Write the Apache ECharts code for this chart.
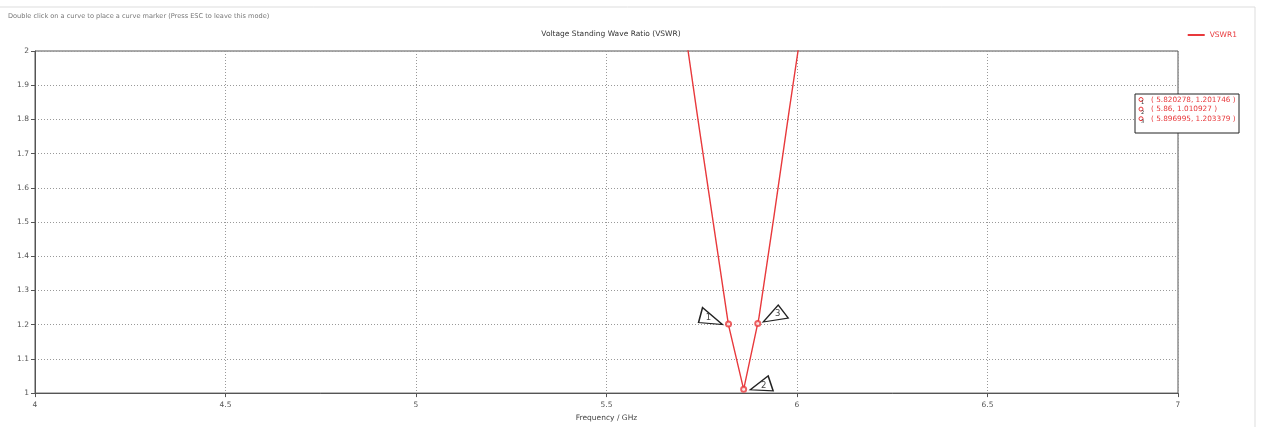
<!DOCTYPE html>
<html>
<head>
<meta charset="utf-8">
<script src="https://cdn.jsdelivr.net/npm/echarts@6/dist/echarts.min.js"></script>
<style>
  html, body { margin: 0; padding: 0; background: #fff; }
  #chart { width: 1262px; height: 427px; }
</style>
</head>
<body>
<div id="chart"></div>
<script>
// VSWR1 curve samples (GHz, VSWR)
const freqs = [5.62, 5.66, 5.70, 5.74, 5.78, 5.82, 5.86, 5.90, 5.94, 5.98, 6.02, 6.06];
const vswr = [2.73, 2.42, 2.11, 1.80, 1.50, 1.20, 1.011, 1.22, 1.52, 1.83, 2.13, 2.45];

// curve markers
const markerIds = ["1", "2", "3"];
const markerX = [5.820278, 5.86, 5.896995];
const markerY = [1.201746, 1.010927, 1.203379];

const xTicks = [4, 4.5, 5, 5.5, 6, 6.5, 7];

const font = "DejaVu Sans";
const red = "#e8393c";

const chart = echarts.init(document.getElementById("chart"));

// triangle flags next to each marker: path, size, offset
const flags = [
  { path: "path://M4,0 L0,15 L24,17 Z", size: [24, 17], offset: [-18, -8], lab: [-2, 2] },
  { path: "path://M18,0 L0,14 L23,15 Z", size: [23, 15], offset: [18, -6], lab: [2, 2] },
  { path: "path://M15,0 L0,17 L25,13 Z", size: [25, 17], offset: [18, -10], lab: [2, 0] },
];

const flagPoints = markerIds.map((id, i) => ({
  name: id,
  coord: [markerX[i], markerY[i]],
  symbol: flags[i].path,
  symbolSize: flags[i].size,
  symbolOffset: flags[i].offset,
  symbolKeepAspect: false,
  itemStyle: { color: "#fff", borderColor: "#222", borderWidth: 1.3 },
  label: {
    show: true,
    formatter: id,
    position: "inside",
    offset: flags[i].lab,
    color: "#444",
    fontSize: 8.5,
    fontFamily: font,
  },
}));

// marker readout box
const boxLeft = 1135, boxTop = 94, rowGap = 9.6;
const boxLines = markerIds.map((id, i) => ({
  type: "text",
  left: boxLeft + 16,
  top: boxTop + 2.5 + i * rowGap,
  style: {
    text: "( " + markerX[i] + ", " + markerY[i] + " )",
    fill: red,
    font: "7.3px '" + font + "'",
  },
}));
const boxSymbols = markerIds.map((id, i) => ({
  type: "circle",
  shape: { cx: boxLeft + 6, cy: boxTop + 5.5 + i * rowGap, r: 2 },
  style: { fill: "#fff", stroke: red, lineWidth: 1 },
}));
const boxDigits = markerIds.map((id, i) => ({
  type: "text",
  left: boxLeft + 6,
  top: boxTop + 6.5 + i * rowGap,
  style: { text: id, fill: "#333", font: "5px '" + font + "'" },
}));

const option = {
  animation: false,
  backgroundColor: "#fff",
  title: {
    text: "Voltage Standing Wave Ratio (VSWR)",
    left: 606,
    textAlign: "center",
    top: 25,
    textStyle: { fontSize: 7.5, fontWeight: "normal", color: "#333", fontFamily: font },
  },
  legend: {
    data: ["VSWR1"],
    right: 20,
    top: 26,
    itemWidth: 17,
    itemHeight: 2,
    icon: "rect",
    textStyle: { color: red, fontSize: 7.5, fontFamily: font },
  },
  grid: {
    left: 35,
    right: 84,
    top: 51,
    bottom: 31,
    show: true,
    borderColor: "#555",
    borderWidth: 1,
  },
  xAxis: {
    type: "value",
    min: 4,
    max: 7,
    interval: 0.5,
    name: "Frequency / GHz",
    nameLocation: "middle",
    nameGap: 20,
    nameTextStyle: { fontSize: 7.5, color: "#444", fontFamily: font },
    axisLine: { lineStyle: { color: "#555" } },
    axisTick: { show: true, length: 4, lineStyle: { color: "#555" } },
    axisLabel: { fontSize: 7.5, color: "#555", fontFamily: font, margin: 8,
      formatter: (v) => (xTicks.includes(v) ? String(v) : "") },
    splitLine: { show: true, lineStyle: { type: [1, 2], color: "#999", width: 1 } },
  },
  yAxis: {
    type: "value",
    min: 1,
    max: 2,
    interval: 0.1,
    axisLine: { show: true, lineStyle: { color: "#555" } },
    axisTick: { show: true, length: 4, lineStyle: { color: "#555" } },
    axisLabel: { fontSize: 7.5, color: "#555", fontFamily: font, margin: 6,
      formatter: (v) => String(+v.toFixed(1)) },
    splitLine: { show: true, lineStyle: { type: [1, 2], color: "#999", width: 1 } },
  },
  series: [
    {
      name: "VSWR1",
      type: "line",
      data: freqs.map((f, i) => [f, vswr[i]]),
      showSymbol: false,
      clip: true,
      lineStyle: { color: red, width: 1.4 },
      itemStyle: { color: red },
      markPoint: { silent: true, data: flagPoints },
    },
    {
      name: "markers",
      type: "scatter",
      data: markerX.map((x, i) => [x, markerY[i]]),
      symbol: "emptyCircle",
      symbolSize: 5,
      itemStyle: { color: red, borderColor: red, borderWidth: 1 },
      z: 5,
    },
  ],
  graphic: [
    {
      type: "text",
      left: 8,
      top: 13,
      style: {
        text: "Double click on a curve to place a curve marker (Press ESC to leave this mode)",
        fill: "#777",
        font: "6.6px '" + font + "'",
      },
    },
    { type: "line", shape: { x1: 0, y1: 7, x2: 1255, y2: 7 }, style: { stroke: "#ddd", lineWidth: 1 } },
    { type: "line", shape: { x1: 1255, y1: 7, x2: 1255, y2: 427 }, style: { stroke: "#ddd", lineWidth: 1 } },
    {
      type: "rect",
      shape: { x: boxLeft, y: boxTop, width: 104, height: 39 },
      style: { fill: "#fff", stroke: "#222", lineWidth: 1 },
      z: 10,
    },
    ...boxSymbols.map((s) => Object.assign(s, { z: 11 })),
    ...boxDigits.map((s) => Object.assign(s, { z: 11 })),
    ...boxLines.map((t) => Object.assign(t, { z: 11 })),
  ],
};

chart.setOption(option);
</script>
</body>
</html>
